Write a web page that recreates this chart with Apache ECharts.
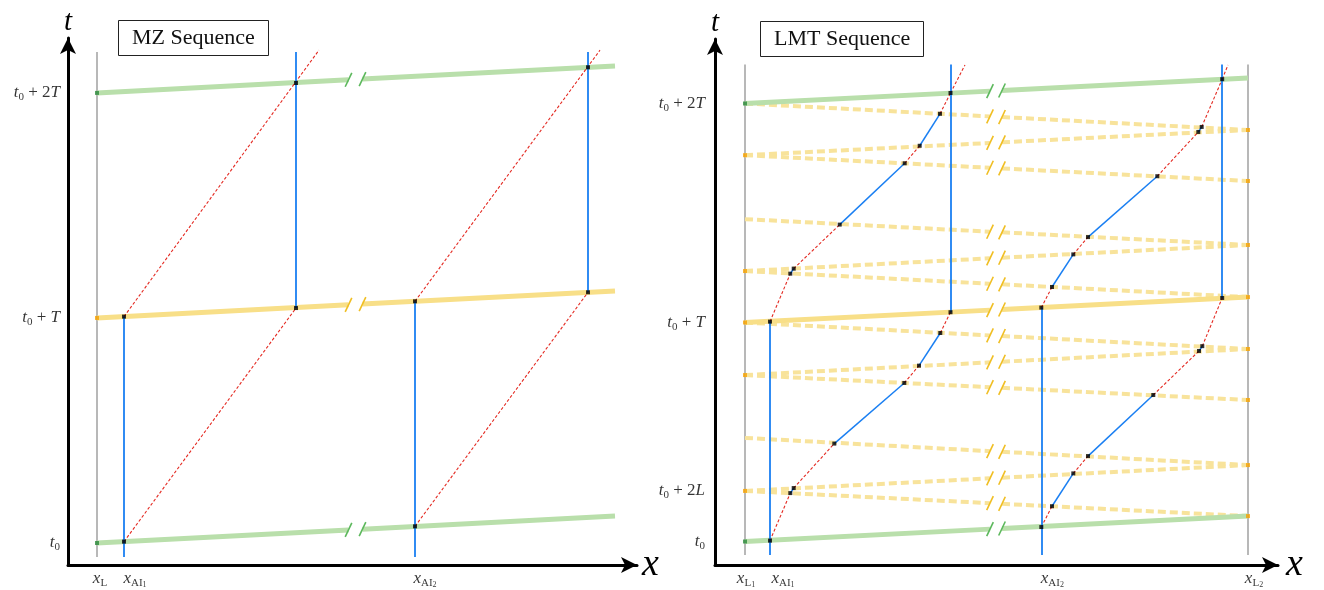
<!DOCTYPE html>
<html><head><meta charset="utf-8">
<script src="https://cdn.jsdelivr.net/npm/echarts/dist/echarts.min.js"></script>
<style>html,body{margin:0;padding:0;background:#fff}#c{width:1324px;height:590px}</style>
</head><body><div id="c"></div>
<script>
// ===== DATA (x in units, xL = 0; t in units of T, t0 = 0) =====
// ---- MZ panel ----
const mzXRange = [-0.29, 5.40];
const mzTRange = [-0.0978, 2.244];
const mzTValues = [0, 1, 2];
const mzTLabels = ['{i|t}{s|0}', '{i|t}{s|0}{r| + }{i|T}', '{i|t}{s|0}{r| + 2}{i|T}'];
const mzXValues = [0, 0.27, 3.18];
const mzXLabels = ['{i|x}{s|L}', '{i|x}{s|AI}{ss|1}', '{i|x}{s|AI}{ss|2}'];
const mzGrayLines = [[0, -0.062, 2.182]];                 // [x, tBottom, tTop]
const mzGreenBeams = [[0, 0, 5.18, 0.12], [0, 2, 5.18, 2.12]]; // [x0,t0,x1,t1]
const mzYellowBeams = [[0, 1, 5.18, 1.12]];
const mzBreakX = [2.515, 2.655];
const mzBlueLines = [[0.27, -0.062, 1.006], [1.99, 1.044, 2.182], [3.18, -0.062, 1.074], [4.91, 1.114, 2.182]];
const mzRedLines = [[0.27, 0.006, 1.99, 1.044], [0.27, 1.006, 2.22, 2.19], [3.18, 0.074, 4.91, 1.114], [3.18, 1.074, 5.03, 2.19]];
const mzDots = [[0.27, 0.006], [0.27, 1.006], [1.99, 1.044], [1.99, 2.044], [3.18, 0.074], [3.18, 1.074], [4.91, 1.114], [4.91, 2.114]];
const mzGreenMarks = [[0, 0], [0, 2]];
const mzOrangeMarks = [[0, 1]];

// ---- LMT panel ----
const lmtXRange = [-0.30, 5.33];
const lmtTRange = [-0.1073, 2.2945];
const lmtTValues = [0, 0.231, 1, 2];
const lmtTLabels = ['{i|t}{s|0}', '{i|t}{s|0}{r| + 2}{i|L}', '{i|t}{s|0}{r| + }{i|T}', '{i|t}{s|0}{r| + 2}{i|T}'];
const lmtXValues = [0, 0.25, 2.963, 5.03];
const lmtXLabels = ['{i|x}{s|L}{ss|1}', '{i|x}{s|AI}{ss|1}', '{i|x}{s|AI}{ss|2}', '{i|x}{s|L}{ss|2}'];
const lmtGrayLines = [[0, -0.062, 2.178], [5.03, -0.062, 2.178]];
const lmtGreenBeams = [[0, 0, 5.03, 0.116], [0, 2.0, 5.03, 2.116]];
const lmtYellowBeams = [[0, 1.0, 5.03, 1.116]];
const lmtDashedLeftT = [2.0, 1.764, 1.764, 1.472, 1.235, 1.235, 1.0, 0.760, 0.760, 0.473, 0.231, 0.231];
const lmtDashedRightT = [1.879, 1.879, 1.646, 1.354, 1.354, 1.116, 0.879, 0.879, 0.646, 0.349, 0.349, 0.116];
const lmtLaserX = [0, 5.03];
const lmtBreakX = [2.45, 2.57];
const lmtBlueLines = [[0.25, -0.062, 1.004], [2.055, 1.047, 2.178], [2.963, -0.062, 1.068], [4.772, 1.112, 2.178]];
const lmtPath1Lower = [[0.25, 0.004], [0.453, 0.221], [0.487, 0.244], [0.893, 0.447], [1.593, 0.724], [1.74, 0.803], [1.953, 0.952], [2.055, 1.047]];
const lmtPath1Upper = [[0.25, 1.004], [0.453, 1.223], [0.487, 1.246], [0.947, 1.447], [1.597, 1.727], [1.747, 1.807], [1.95, 1.953], [2.055, 2.048]];
const lmtPath2Lower = [[2.963, 0.066], [3.07, 0.161], [3.283, 0.311], [3.43, 0.390], [4.083, 0.669], [4.54, 0.870], [4.573, 0.892], [4.772, 1.112]];
const lmtPath2Upper = [[2.963, 1.068], [3.07, 1.162], [3.283, 1.311], [3.43, 1.390], [4.123, 1.668], [4.533, 1.870], [4.567, 1.893], [4.772, 2.111]];
const lmtTails = [[2.055, 2.048, 2.2, 2.176], [4.772, 2.111, 4.83, 2.176]];
const lmtGreenMarks = [[0, 0], [0, 2.0]];
const lmtOrangeLeftT = [0.231, 0.760, 1.0, 1.235, 1.764];
const lmtOrangeRightT = [0.116, 0.349, 0.646, 0.879, 1.116, 1.354, 1.646, 1.879];

// ===== STYLES =====
const SERIF = 'Liberation Serif';
const C = {
  green: '#b9dfab', yellow: '#f8df88', dashed: '#f8e39b', greenSlash: '#5cb85c', yellowSlash: '#f0be22',
  blue: '#1a7ff2', red: '#e42a22', gray: '#a0a0a0', dot: '#000', greenMark: '#2a8a3a', orangeMark: '#f5a000'
};
const rich = {
  i: {fontFamily: SERIF, fontStyle: 'italic', fontSize: 17, lineHeight: 20, color: '#000'},
  r: {fontFamily: SERIF, fontSize: 17, lineHeight: 20, color: '#000'},
  s: {fontFamily: SERIF, fontSize: 11, lineHeight: 11, color: '#000', verticalAlign: 'bottom'},
  ss: {fontFamily: SERIF, fontSize: 8, lineHeight: 6, color: '#000', verticalAlign: 'bottom'}
};
const mzXLabelShift = [3, 11, 10];
const lmtXLabelShift = [1, 13, 11, 6];

// ===== HELPERS =====
function tAt(b, x) { return b[1] + (b[3] - b[1]) * (x - b[0]) / (b[2] - b[0]); }
function broken(beams, bx, dx, dt) {
  const segs = [], slashes = [];
  beams.forEach(b => {
    const t1 = tAt(b, bx[0]), t2 = tAt(b, bx[1]);
    segs.push([[b[0], b[1]], [bx[0], t1]]);
    segs.push([[bx[1], t2], [b[2], b[3]]]);
    slashes.push([[bx[0] - dx, t1 - dt], [bx[0] + dx, t1 + dt]]);
    slashes.push([[bx[1] - dx, t2 - dt], [bx[1] + dx, t2 + dt]]);
  });
  return {segs, slashes};
}
function linesS(ax, coords, style, z) {
  return {type: 'lines', coordinateSystem: 'cartesian2d', xAxisIndex: ax, yAxisIndex: ax, silent: true, z: z,
    data: coords.map(c => ({coords: c})), lineStyle: Object.assign({opacity: 1}, style), animation: false};
}
function vert(list) { return list.map(v => [[v[0], v[1]], [v[0], v[2]]]); }
function seg4(list) { return list.map(v => [[v[0], v[1]], [v[2], v[3]]]); }
function pathSegs(paths) {
  const red = [], blue = [];
  paths.forEach(p => { for (let k = 0; k < p.length - 1; k++) (k % 2 === 0 ? red : blue).push([p[k], p[k + 1]]); });
  return {red, blue};
}
function dotsS(ax, pts, color, size, z) {
  return {type: 'scatter', xAxisIndex: ax, yAxisIndex: ax, symbol: 'rect', symbolSize: size, silent: true, z: z,
    itemStyle: {color: color}, data: pts, animation: false};
}
function yLabelsS(ax, xmin, vals, labels, dist) {
  return {type: 'scatter', xAxisIndex: ax, yAxisIndex: ax, symbolSize: 0, silent: true, z: 20,
    data: vals.map((v, i) => ({value: [xmin, v], label: {formatter: labels[i]}})),
    label: {show: true, position: 'left', distance: dist, rich: rich}, animation: false};
}
function xLabelsS(ax, tmin, vals, labels, shifts) {
  return {type: 'scatter', xAxisIndex: ax, yAxisIndex: ax, symbolSize: 0, silent: true, z: 20,
    data: vals.map((v, i) => ({value: [v, tmin], label: {formatter: labels[i], offset: [shifts[i], 0]}})),
    label: {show: true, position: 'bottom', distance: 4, rich: rich}, animation: false};
}
function axisPair(gridIdx, xr, tr, xGap) {
  const line = {show: true, onZero: false, symbol: ['none', 'arrow'], symbolSize: [12, 16],
    lineStyle: {color: '#000', width: 3}};
  return {
    x: {type: 'value', gridIndex: gridIdx, min: xr[0], max: xr[1], axisLine: line, axisTick: {show: false},
      axisLabel: {show: false}, splitLine: {show: false}, name: 'x', nameLocation: 'end', nameGap: xGap,
      nameTextStyle: {fontFamily: SERIF, fontStyle: 'italic', fontSize: 38, color: '#000', verticalAlign: 'middle', align: 'left'}},
    y: {type: 'value', gridIndex: gridIdx, min: tr[0], max: tr[1], axisLine: line, axisTick: {show: false},
      axisLabel: {show: false}, splitLine: {show: false}, name: 't', nameLocation: 'end', nameGap: 1,
      nameTextStyle: {fontFamily: SERIF, fontStyle: 'italic', fontSize: 29, color: '#000', align: 'center', verticalAlign: 'bottom'}}
  };
}

// ===== BUILD =====
const A0 = axisPair(0, mzXRange, mzTRange, 5);
const A1 = axisPair(1, lmtXRange, lmtTRange, 8);
const series = [];

// MZ
const mzG = broken(mzGreenBeams, mzBreakX, 0.033, 0.031);
const mzY = broken(mzYellowBeams, mzBreakX, 0.033, 0.031);
series.push(linesS(0, vert(mzGrayLines), {color: C.gray, width: 1.5}, 2));
series.push(linesS(0, mzG.segs, {color: C.green, width: 5}, 3));
series.push(linesS(0, mzY.segs, {color: C.yellow, width: 5}, 3));
series.push(linesS(0, mzG.slashes, {color: C.greenSlash, width: 1.6}, 4));
series.push(linesS(0, mzY.slashes, {color: C.yellowSlash, width: 1.6}, 4));
series.push(linesS(0, seg4(mzRedLines), {color: C.red, width: 1.1, type: [3, 2]}, 5));
series.push(linesS(0, vert(mzBlueLines), {color: C.blue, width: 1.8}, 6));
series.push(dotsS(0, mzDots, C.dot, 4, 8));
series.push(dotsS(0, mzGreenMarks, C.greenMark, 4, 8));
series.push(dotsS(0, mzOrangeMarks, C.orangeMark, 4, 8));
series.push(yLabelsS(0, mzXRange[0], mzTValues, mzTLabels, 8));
series.push(xLabelsS(0, mzTRange[0], mzXValues, mzXLabels, mzXLabelShift));

// LMT
const lmtDashedBeams = lmtDashedLeftT.map((tl, i) => [lmtLaserX[0], tl, lmtLaserX[1], lmtDashedRightT[i]]);
const lG = broken(lmtGreenBeams, lmtBreakX, 0.033, 0.032);
const lY = broken(lmtYellowBeams, lmtBreakX, 0.033, 0.032);
const lD = broken(lmtDashedBeams, lmtBreakX, 0.033, 0.032);
const lP = pathSegs([lmtPath1Lower, lmtPath1Upper, lmtPath2Lower, lmtPath2Upper]);
series.push(linesS(1, vert(lmtGrayLines), {color: C.gray, width: 1.5}, 2));
series.push(linesS(1, lD.segs, {color: C.dashed, width: 4, type: [8, 4]}, 3));
series.push(linesS(1, lG.segs, {color: C.green, width: 5}, 3));
series.push(linesS(1, lY.segs, {color: C.yellow, width: 5}, 3));
series.push(linesS(1, lG.slashes, {color: C.greenSlash, width: 1.6}, 4));
series.push(linesS(1, lY.slashes.concat(lD.slashes), {color: C.yellowSlash, width: 1.6}, 4));
series.push(linesS(1, lP.red.concat(seg4(lmtTails)), {color: C.red, width: 1.1, type: [3, 2]}, 5));
series.push(linesS(1, lP.blue, {color: C.blue, width: 1.5}, 6));
series.push(linesS(1, vert(lmtBlueLines), {color: C.blue, width: 1.8}, 6));
series.push(dotsS(1, [].concat(lmtPath1Lower, lmtPath1Upper, lmtPath2Lower, lmtPath2Upper), C.dot, 4, 8));
series.push(dotsS(1, lmtGreenMarks, C.greenMark, 4, 8));
series.push(dotsS(1, lmtOrangeLeftT.map(t => [lmtLaserX[0], t]).concat(lmtOrangeRightT.map(t => [lmtLaserX[1], t])), C.orangeMark, 4, 7));
series.push(yLabelsS(1, lmtXRange[0], lmtTValues, lmtTLabels, 10));
series.push(xLabelsS(1, lmtTRange[0], lmtXValues, lmtXLabels, lmtXLabelShift));

const chart = echarts.init(document.getElementById('c'));
chart.setOption({
  animation: false,
  backgroundColor: '#fff',
  title: [
    {text: 'MZ Sequence', left: 118, top: 20, padding: [7, 14, 7, 14], borderColor: '#222', borderWidth: 1,
      textStyle: {fontFamily: SERIF, fontSize: 22, fontWeight: 'normal', color: '#111'}},
    {text: 'LMT Sequence', left: 760, top: 21, padding: [7, 14, 7, 14], borderColor: '#222', borderWidth: 1,
      textStyle: {fontFamily: SERIF, fontSize: 22, fontWeight: 'normal', color: '#111'}}
  ],
  grid: [
    {left: 68, top: 38, width: 569, height: 527, containLabel: false, outerBoundsMode: 'none'},
    {left: 715, top: 39, width: 563, height: 526, containLabel: false, outerBoundsMode: 'none'}
  ],
  xAxis: [A0.x, A1.x],
  yAxis: [A0.y, A1.y],
  series: series
});
</script>
</body></html>
